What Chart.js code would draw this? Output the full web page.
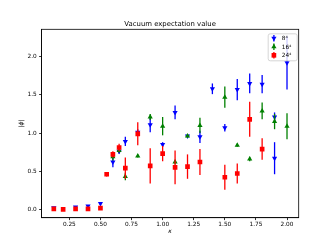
<!DOCTYPE html>
<html>
<head>
<meta charset="utf-8">
<script src="https://cdn.jsdelivr.net/npm/chart.js@4/dist/chart.umd.min.js"></script>
<style>
  body { margin: 0; background: #fff; }
  #wrap { width: 332px; height: 249px; }
</style>
</head>
<body>
<div id="wrap"><canvas id="vevChart"></canvas></div>
<script>
// data
const kappa8 = [0.125, 0.3, 0.4, 0.5, 0.6, 0.65, 0.7, 0.8, 0.9, 1.0, 1.1, 1.2, 1.3, 1.4, 1.5, 1.6, 1.7, 1.8, 1.9, 1.9, 2.0];
const phi8 = [0.02, 0.03, 0.045, 0.075, 0.62, 0.76, 0.89, 1.01, 1.11, 0.85, 1.27, 0.96, 0.95, 1.58, 1.07, 1.57, 1.65, 1.64, 1.21, 0.67, 1.92];
const err8 = [0.01, 0.01, 0.01, 0.02, 0.07, 0.03, 0.06, 0.04, 0.1, 0.03, 0.09, 0.02, 0.08, 0.07, 0.05, 0.14, 0.13, 0.12, 0.06, 0.21, 0.35];

const kappa16 = [0.6, 0.65, 0.7, 0.8, 0.9, 1.0, 1.1, 1.2, 1.3, 1.5, 1.6, 1.7, 1.8, 1.9, 2.0];
const phi16 = [0.69, 0.77, 0.43, 0.70, 1.21, 1.09, 0.62, 0.96, 1.10, 1.47, 0.84, 0.66, 1.29, 1.15, 1.09];
const err16 = [0.05, 0.03, 0.05, 0.02, 0.04, 0.12, 0.03, 0.02, 0.1, 0.14, 0.02, 0.03, 0.11, 0.1, 0.17];

const kappa24 = [0.125, 0.2, 0.3, 0.4, 0.5, 0.55, 0.6, 0.65, 0.7, 0.8, 0.9, 1.0, 1.1, 1.2, 1.3, 1.5, 1.6, 1.7, 1.8];
const phi24 = [0.005, 0.0, 0.005, 0.005, 0.015, 0.46, 0.72, 0.81, 0.54, 0.99, 0.57, 0.73, 0.55, 0.56, 0.62, 0.42, 0.47, 1.18, 0.79];
const err24 = [0.005, 0.005, 0.005, 0.005, 0.01, 0.03, 0.04, 0.05, 0.14, 0.15, 0.23, 0.1, 0.22, 0.16, 0.17, 0.165, 0.13, 0.23, 0.14];

const seriesLabels = ['8⁴', '16⁴', '24⁴'];
const xTicks = [0.25, 0.5, 0.75, 1.0, 1.25, 1.5, 1.75, 2.0];
const yTicks = [0.0, 0.5, 1.0, 1.5, 2.0];

const FONT = 'DejaVu Sans';

function points(xs, ys) {
    return xs.map((x, i) => ({ x: x, y: ys[i] }));
}

// vertical error bars, drawn just before each dataset's markers
const errorBars = {
    id: 'errorBars',
    beforeDatasetDraw(chart, args) {
        const ds = chart.data.datasets[args.index];
        if (!ds.errors) return;
        const ctx = chart.ctx;
        const xs = chart.scales.x, ys = chart.scales.y;
        ctx.save();
        ctx.strokeStyle = ds.borderColor;
        ctx.lineWidth = 1.3;
        ds.data.forEach((p, i) => {
            const px = xs.getPixelForValue(p.x);
            ctx.beginPath();
            ctx.moveTo(px, ys.getPixelForValue(p.y - ds.errors[i]));
            ctx.lineTo(px, ys.getPixelForValue(p.y + ds.errors[i]));
            ctx.stroke();
        });
        ctx.restore();
    }
};

// frame, title and the in-axes legend (matplotlib style)
const decorations = {
    id: 'decorations',
    afterDraw(chart) {
        const ctx = chart.ctx;
        const a = chart.chartArea;
        ctx.save();
        ctx.strokeStyle = '#000';
        ctx.lineWidth = 0.8;
        ctx.strokeRect(a.left, a.top, a.right - a.left, a.bottom - a.top);

        ctx.fillStyle = '#000';
        ctx.font = '6.9px "' + FONT + '"';
        ctx.textAlign = 'center';
        ctx.textBaseline = 'alphabetic';
        ctx.fillText('Vacuum expectation value', (a.left + a.right) / 2, 26.3);

        // legend box
        const bx = a.right - 30.5, by = a.top + 4.5, bw = 29, bh = 27;
        ctx.fillStyle = 'rgba(255,255,255,0.8)';
        ctx.strokeStyle = '#cccccc';
        ctx.lineWidth = 0.8;
        ctx.beginPath();
        ctx.roundRect(bx, by, bw, bh, 2);
        ctx.fill();
        ctx.stroke();

        ctx.font = '5.8px "' + FONT + '"';
        ctx.textAlign = 'left';
        ctx.textBaseline = 'middle';
        chart.data.datasets.forEach((ds, i) => {
            const mx = bx + 5.7, my = by + 4.5 + i * 8.5;
            ctx.strokeStyle = ds.borderColor;
            ctx.lineWidth = 1.3;
            ctx.beginPath();
            ctx.moveTo(mx, my - 3.2);
            ctx.lineTo(mx, my + 3.2);
            ctx.stroke();
            ctx.fillStyle = ds.backgroundColor;
            Chart.helpers.drawPoint(ctx, {
                pointStyle: ds.pointStyle,
                radius: ds.pointRadius,
                rotation: ds.rotation || 0,
                borderWidth: 0
            }, mx, my);
            ctx.fillStyle = '#000';
            ctx.fillText(ds.label, bx + 13.5, my + 0.3);
        });
        ctx.restore();
    }
};

const tickFont = { family: FONT, size: 5.8 };

new Chart(document.getElementById('vevChart'), {
    type: 'scatter',
    data: {
        datasets: [
            {
                label: seriesLabels[0],
                data: points(kappa8, phi8),
                errors: err8,
                backgroundColor: '#0000ff',
                borderColor: '#0000ff',
                pointStyle: 'triangle',
                rotation: 180,
                pointRadius: 3,
                borderWidth: 0,
                order: 3
            },
            {
                label: seriesLabels[1],
                data: points(kappa16, phi16),
                errors: err16,
                backgroundColor: '#008000',
                borderColor: '#008000',
                pointStyle: 'triangle',
                pointRadius: 3,
                borderWidth: 0,
                order: 2
            },
            {
                label: seriesLabels[2],
                data: points(kappa24, phi24),
                errors: err24,
                backgroundColor: '#ff0000',
                borderColor: '#ff0000',
                pointStyle: 'rect',
                pointRadius: 3.3,
                borderWidth: 0,
                order: 1
            }
        ]
    },
    options: {
        responsive: true,
        maintainAspectRatio: false,
        animation: false,
        layout: { padding: { top: 29.3, right: 33.3, left: 0, bottom: 0 } },
        plugins: {
            legend: { display: false },
            tooltip: { enabled: false },
            title: { display: false }
        },
        scales: {
            x: {
                type: 'linear',
                min: 0.026,
                max: 2.094,
                afterBuildTicks: s => { s.ticks = xTicks.map(v => ({ value: v })); },
                afterFit: s => { s.height = 31.3; },
                ticks: {
                    font: tickFont,
                    color: '#000',
                    padding: 1,
                    maxRotation: 0,
                    callback: v => v.toFixed(2)
                },
                grid: { drawOnChartArea: false, tickLength: 2.4, color: '#000', lineWidth: 0.8 },
                border: { color: '#000', width: 0.8 },
                title: {
                    display: true,
                    text: 'κ',
                    font: { family: FONT, size: 6, style: 'italic' },
                    color: '#000',
                    padding: { top: 0, bottom: 13.7 }
                }
            },
            y: {
                type: 'linear',
                min: -0.11,
                max: 2.36,
                afterBuildTicks: s => { s.ticks = yTicks.map(v => ({ value: v })); },
                afterFit: s => { s.width = 41.5; },
                ticks: {
                    font: tickFont,
                    color: '#000',
                    padding: 2.4,
                    callback: v => v.toFixed(1)
                },
                grid: { drawOnChartArea: false, tickLength: 2.4, color: '#000', lineWidth: 0.8 },
                border: { color: '#000', width: 0.8 },
                title: {
                    display: true,
                    text: '|ϕ|',
                    font: { family: FONT, size: 6, style: 'italic' },
                    color: '#000',
                    padding: { top: 17.4, bottom: 0 }
                }
            }
        }
    },
    plugins: [errorBars, decorations]
});
</script>
</body>
</html>
